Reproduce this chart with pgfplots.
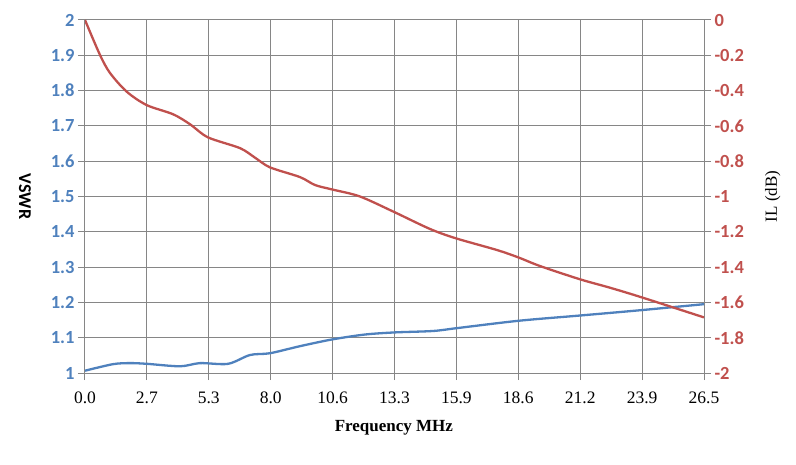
\documentclass[border=0pt]{standalone}
\usepackage{pgfplots}
\pgfplotsset{compat=1.18}
\usepackage{fontspec}
\setmainfont{Liberation Serif}
\newfontfamily\calfont{Carlito}
\definecolor{vblue}{RGB}{79,129,189}
\definecolor{ilred}{RGB}{192,80,77}
\definecolor{gridgray}{RGB}{134,134,134}
\begin{document}
\begin{tikzpicture}
\pgfplotsset{
  base/.style={
    scale only axis, width=619bp, height=353bp,
    xmin=0, xmax=26.5,
    /pgf/number format/assume math mode=true,
    tick align=outside, major tick length=7bp,
    tick style={gridgray, line width=1bp},
    axis line style={gridgray, line width=1bp},
  }
}
\begin{axis}[base,
  ymin=1, ymax=2,
  xtick={0,2.65,5.3,7.95,10.6,13.25,15.9,18.55,21.2,23.85,26.5},
  xticklabels={0.0,2.7,5.3,8.0,10.6,13.3,15.9,18.6,21.2,23.9,26.5},
  ytick={1,1.1,1.2,1.3,1.4,1.5,1.6,1.7,1.8,1.9,2},
  yticklabels={1,1.1,1.2,1.3,1.4,1.5,1.6,1.7,1.8,1.9,2},
  xtick pos=bottom, ytick pos=left,
  grid=major, major grid style={gridgray, line width=1bp},
  xticklabel style={font=\fontsize{17.5bp}{19bp}\selectfont, text=black, yshift=-8bp},
  yticklabel style={font=\calfont\bfseries\fontsize{18.5bp}{20bp}\selectfont, text=vblue},
  xlabel={\textbf{Frequency MHz}},
  xlabel style={font=\fontsize{17bp}{19bp}\selectfont, at={(axis description cs:0.499,-0.155)}, anchor=center},
  ylabel={VSWR},
  ylabel style={font=\calfont\bfseries\fontsize{18bp}{20bp}\selectfont, at={(axis description cs:-0.097,0.5)}, anchor=center, rotate=180},
]
\addplot[vblue, line width=2.3bp, smooth] coordinates {
(0,1.0065) (1.199,1.025) (1.926,1.028) (2.654,1.026) (4.067,1.019)
(4.923,1.028) (6.122,1.026) (7.064,1.051) (7.920,1.056) (9.204,1.076)
(10.575,1.095) (11.988,1.109) (13.27,1.115) (14.90,1.119) (15.91,1.127)
(18.57,1.148) (21.22,1.163) (23.80,1.178) (26.5,1.195)
};
\end{axis}
\begin{axis}[base,
  ymin=-2, ymax=0,
  axis x line=none, axis y line*=right,
  ytick={-2,-1.8,-1.6,-1.4,-1.2,-1,-0.8,-0.6,-0.4,-0.2,0},
  yticklabels={-2,-1.8,-1.6,-1.4,-1.2,-1,-0.8,-0.6,-0.4,-0.2,0},
  yticklabel style={font=\calfont\bfseries\fontsize{18.5bp}{20bp}\selectfont, text=ilred},
  ylabel={IL (dB)},
  ylabel style={font=\fontsize{17bp}{19bp}\selectfont, at={(axis description cs:1.111,0.5)}, anchor=center},
]
\addplot[ilred, line width=2.3bp, smooth] coordinates {
(0,0) (0.642,-0.198) (1.07,-0.30) (1.785,-0.406) (2.64,-0.482)
(3.77,-0.534) (4.50,-0.591) (5.266,-0.665) (6.636,-0.726)
(7.278,-0.78) (7.920,-0.835) (9.204,-0.89) (9.847,-0.935) (10.575,-0.96)
(11.773,-1.0) (13.27,-1.09) (14.77,-1.184) (15.88,-1.237) (17.63,-1.303)
(18.55,-1.345) (19.48,-1.394) (21.19,-1.469) (22.48,-1.517) (23.80,-1.57) (26.5,-1.685)
};
\end{axis}
\path (-85bp,-92bp) rectangle (711bp,373bp);
\end{tikzpicture}
\end{document}
